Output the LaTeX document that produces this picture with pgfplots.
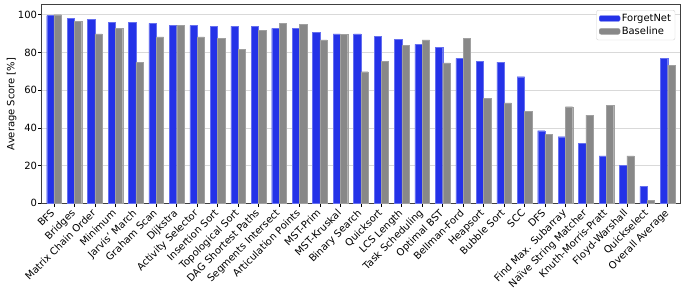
\documentclass[border=0pt]{standalone}
\usepackage{pgfplots}
\pgfplotsset{compat=1.18}
\usepackage{pgfplotstable}
\usepackage{fontspec}
\setmainfont{DejaVu Sans}
\definecolor{fnblue}{RGB}{36,50,232}
\definecolor{blgray}{RGB}{136,136,136}
\pgfplotstableread{
x fn bl
0 99.5 100
1 98.1 96.5
2 97.7 89.8
3 96.0 92.8
4 96.0 74.9
5 95.4 88.2
6 94.4 94.4
7 94.4 88.2
8 94.0 87.5
9 94.0 81.8
10 94.0 91.7
11 92.8 95.4
12 92.8 94.9
13 90.5 86.6
14 89.8 89.6
15 89.8 69.8
16 88.5 75.4
17 87.1 83.9
18 84.3 86.7
19 82.7 74.4
20 76.9 87.3
21 75.4 55.8
22 74.8 53.3
23 67.1 48.8
24 38.5 36.4
25 35.3 51.2
26 31.8 46.8
27 25.2 52.0
28 20.3 25.1
29 9.0 1.7
30 76.9 73.3
}\data
\begin{document}
\begin{tikzpicture}
\begin{axis}[
  at={(0,0)}, anchor=south west,
  width=638.3bp, height=198.6bp, scale only axis,
  ymin=0, ymax=105.3, xmin=-0.6, xmax=30.6,
  ybar, bar width=0.357,
  xtick=data,
  xticklabels={BFS,Bridges,Matrix Chain Order,Minimum,Jarvis' March,Graham Scan,Dijkstra,Activity Selector,Insertion Sort,Topological Sort,DAG Shortest Paths,Segments Intersect,Articulation Points,MST-Prim,MST-Kruskal,Binary Search,Quicksort,LCS Length,Task Scheduling,Optimal BST,Bellman-Ford,Heapsort,Bubble Sort,SCC,DFS,Find Max. Subarray,Naïve String Matcher,Knuth-Morris-Pratt,Floyd-Warshall,Quickselect,Overall Average},
  x tick label style={xshift=-4bp, rotate=45, anchor=north east, inner sep=1pt, font=\fontsize{10}{12}\selectfont},
  ytick={0,20,40,60,80,100},
  y tick label style={font=\fontsize{10}{12}\selectfont, inner sep=1pt},
  /pgf/number format/assume math mode=true,
  xtick pos=bottom, ytick pos=left,
  tick align=outside, major tick length=3.5bp,
  tick style={black, line width=0.6pt},
  ymajorgrids, grid style={gray!30, line width=0.6pt},
  axis line style={black!75, line width=0.8pt},
  ylabel={Average Score [\%]},
  ylabel shift=-3bp,
  ylabel style={font=\fontsize{10}{12}\selectfont},
  legend style={at={(0.9925,0.973)}, anchor=north east, draw=gray!35, rounded corners=2pt,
    font=\fontsize{10}{12}\selectfont, row sep=1pt, inner sep=2.5pt, nodes={inner sep=1.5pt}},
  legend cell align=left,
  legend image code/.code={\fill[#1] (0cm,-0.1cm) rectangle (0.74cm,0.11cm);},
]
\addplot[fill=fnblue, draw=fnblue!70!white, line width=0.3pt, bar shift=-0.1785] table[x=x,y=fn]{\data};
\addplot[fill=blgray, draw=blgray!80!white, line width=0.3pt, bar shift=0.1785] table[x=x,y=bl]{\data};
\legend{ForgetNet,Baseline}
\end{axis}
\pgfresetboundingbox
\path[use as bounding box] (-41.7bp,-97.7bp) rectangle (644.3bp,203.3bp);
\end{tikzpicture}
\end{document}
